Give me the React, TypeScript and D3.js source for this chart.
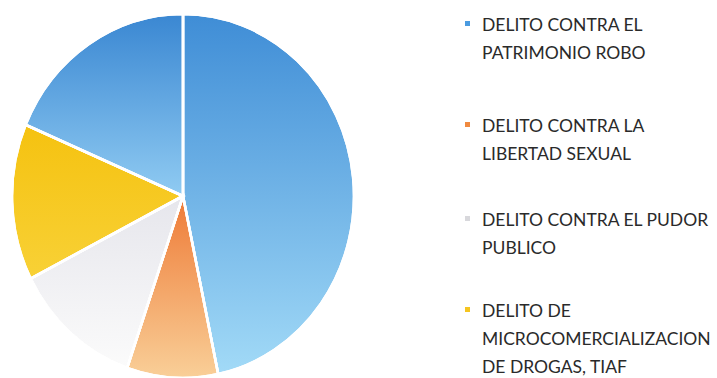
import React from "react";
import * as d3 from "d3";

const categories = [
  "DELITO CONTRA EL PATRIMONIO ROBO",
  "DELITO CONTRA LA LIBERTAD SEXUAL",
  "DELITO CONTRA EL PUDOR PUBLICO",
  "DELITO DE MICROCOMERCIALIZACION DE DROGAS, TIAF",
  "",
];
const values = [46.7, 8.6, 12.2, 13.9, 18.6];
const legendLines = [
  ["DELITO CONTRA EL", "PATRIMONIO ROBO"],
  ["DELITO CONTRA LA", "LIBERTAD SEXUAL"],
  ["DELITO CONTRA EL PUDOR", "PUBLICO"],
  ["DELITO DE", "MICROCOMERCIALIZACION", "DE DROGAS, TIAF"],
];
const gradTop = ["#3f8dd6", "#ee7a36", "#e6e6ec", "#f5c210", "#3a87d2"];
const gradBottom = ["#a2daf7", "#f9cf98", "#fbfbfb", "#f8d136", "#90cbf2"];
const markerColors = ["#4a9be0", "#f08a40", "#d8d8dc", "#f5c520"];

export default function App() {
  const W = 717, H = 378;
  const cx = 183, cy = 196, rx = 171, ry = 182;
  const pie = d3.pie<number>().sort(null).value((d) => d);
  const arcs = pie(values);
  const arc = d3.arc<d3.PieArcDatum<number>>().innerRadius(0).outerRadius(rx);
  const sy = ry / rx;
  const legendX = 482;
  const markerX = 465;
  const entryBaselines = [31, 132, 226, 317];
  const lineH = 28;
  return (
    <svg width={W} height={H} style={{ position: "absolute", left: 0, top: 0, background: "#fff" }}>
      <defs>
        {arcs.map((_, i) => (
          <linearGradient key={i} id={`g${i}`} x1={0} y1={0} x2={0} y2={1}>
            <stop offset="0" stopColor={gradTop[i]} />
            <stop offset="1" stopColor={gradBottom[i]} />
          </linearGradient>
        ))}
      </defs>
      <rect width={W} height={H} fill="#fff" />
      <g>
        {arcs.map((a, i) => (
          <path
            key={i}
            d={arc(a) || ""}
            transform={`translate(${cx},${cy}) scale(1,${sy})`}
            fill={`url(#g${i})`}
            stroke="#fff"
            strokeWidth={2.5}
            strokeLinejoin="round"
          />
        ))}
      </g>
      {arcs.map((a, i) => (
        <path
          key={"o" + i}
          d={arc(a) || ""}
          transform={`translate(${cx},${cy}) scale(1,${sy})`}
          fill="none"
          stroke="#fff"
          strokeWidth={2.5}
        />
      ))}
      <g fontFamily="Lato, 'Open Sans', sans-serif" fontSize={17.5} fill="#2a2a2a">
        {legendLines.map((lines, i) => (
          <g key={i}>
            <rect x={markerX} y={entryBaselines[i] - 10} width={5} height={5} fill={markerColors[i]} />
            {lines.map((t, j) => (
              <text key={j} x={legendX} y={entryBaselines[i] + j * lineH}>
                {t}
              </text>
            ))}
          </g>
        ))}
      </g>
    </svg>
  );
}
